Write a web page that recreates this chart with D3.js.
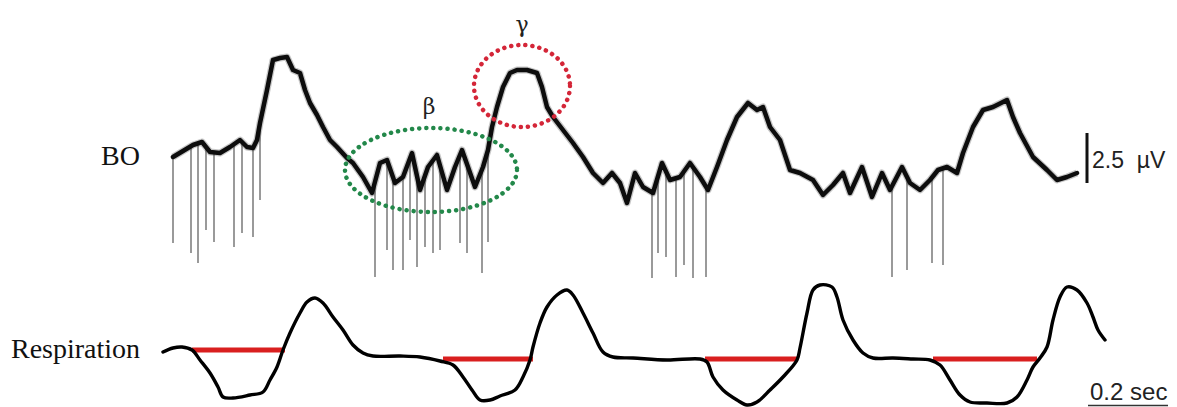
<!DOCTYPE html>
<html><head><meta charset="utf-8">
<script src="https://cdnjs.cloudflare.com/ajax/libs/d3/7.8.5/d3.min.js"></script>
<style>body{margin:0;background:#fff}svg{display:block}</style>
</head><body><svg id="c" width="1177" height="407"></svg>
<script>
// BO trace: time (ms) and amplitude (µV)
const boTime = [32.5,82.5,105,125,150,175,200,217.5,232.5,242.5,250,267.5,282.5,300,317.5,332.5,350,362.5,375,392.5,407.5,425,442.5,467.5,482.5,507.5,530,550,567.5,587.5,607.5,630,650,670,692.5,717.5,737.5,755,770,787.5,807.5,820,830,842.5,857.5,875,892.5,917.5,942.5,955,967.5,982.5,1007.5,1032.5,1057.5,1082.5,1107.5,1130,1150,1167.5,1187.5,1207.5,1232.5,1255,1275,1300,1325,1350,1370,1392.5,1417.5,1442.5,1470,1492.5,1507.5,1525,1550,1575,1600,1632.5,1657.5,1682.5,1707.5,1725,1755,1780,1805,1825,1855,1875,1900,1925,1945,1967.5,1992.5,2007.5,2032.5,2057.5,2082.5,2117.5,2132.5,2150,2182.5,2217.5,2242.5,2267.5,2292.5];
const boValue = [2.15,2.75,2.9,2.4,2.35,2.65,3.0,2.65,2.6,3.0,3.85,5.5,7.0,7.1,7.15,6.5,6.35,5.5,4.85,4.25,3.65,3.0,2.65,2.1,1.85,1.15,0.35,1.85,2.0,0.85,1.15,2.35,0.5,1.65,2.25,0.5,1.65,2.5,1.65,0.65,1.65,2.5,3.65,4.65,5.65,6.35,6.5,6.5,6.35,5.65,4.65,4.15,3.5,2.85,2.15,1.35,0.85,1.35,0.85,-0.15,1.35,0.65,0.35,1.85,1.0,1.15,1.85,1.15,0.5,1.65,3.0,4.15,4.85,4.5,4.65,3.65,3.0,1.5,1.35,1.0,0.25,0.75,1.35,0.35,1.65,0.15,1.35,0.5,1.65,0.85,0.5,1.0,1.5,1.65,1.35,2.35,3.65,4.5,4.65,5.0,4.15,3.35,2.15,1.5,1.0,1.15,1.35];
// downward spikes: time (ms) and bottom amplitude (µV)
const spikeTime = [32.5,77.5,95,115,135,185,205,232.5,250,537.5,567.5,582.5,607.5,625,642.5,662.5,682.5,700,750,767.5,805,820,1230,1245,1265,1290,1310,1332.5,1365,1830,1867.5,1930,1957.5];
const spikeBottom = [-2.15,-2.65,-3.15,-1.5,-2.1,-2.35,-1.65,-1.85,0.0,-3.85,-2.5,-3.5,-3.5,-2.0,-3.35,-2.35,-2.65,-2.5,-2.15,-2.65,-3.65,-2.1,-3.9,-2.65,-2.85,-3.85,-3.25,-3.9,-3.85,-3.85,-3.5,-3.15,-3.25];
// respiration trace: time (ms), arbitrary units
const respTime = [7.5,32.5,55,80,100,125,145,157.5,182.5,225,257.5,275,292.5,307.5,325,350,367.5,387.5,407.5,432.5,457.5,482.5,507.5,532.5,600,650,700,732.5,757.5,780,800,825,850,887.5,907.5,925,932.5,950,967.5,992.5,1017.5,1032.5,1057.5,1082.5,1107.5,1132.5,1182.5,1267.5,1350,1367.5,1382.5,1407.5,1442.5,1467.5,1492.5,1525,1557.5,1592.5,1600,1617.5,1632.5,1650,1680,1692.5,1707.5,1732.5,1757.5,1782.5,1832.5,1882.5,1925,1950,1975,2000,2025,2067.5,2117.5,2142.5,2167.5,2182.5,2200,2217.5,2232.5,2250,2267.5,2292.5,2317.5,2332.5,2345,2362.5];
const respValue = [0.4,0.6,0.65,0.5,0.0,-0.65,-1.35,-1.85,-1.9,-1.75,-1.6,-1.0,-0.35,0.5,1.35,2.35,2.9,3.1,2.85,2.15,1.5,0.75,0.35,0.2,0.2,0.15,-0.05,-0.25,-0.85,-1.5,-2.0,-2.0,-1.8,-1.5,-0.85,0.0,0.65,1.85,2.65,3.25,3.5,3.25,2.35,1.35,0.4,0.15,0.1,0.0,0.05,-0.1,-0.85,-1.5,-2.0,-2.25,-2.1,-1.5,-0.85,0.0,0.6,2.35,3.5,3.75,3.65,3.15,2.0,1.0,0.35,0.1,0.1,0.05,0.0,-0.25,-1.0,-1.75,-2.1,-2.15,-2.15,-1.85,-1.0,-0.35,0.1,0.65,2.0,3.15,3.65,3.5,2.85,2.15,1.5,1.0];
// inspiration periods (red bars)
const barStart = [80,707.5,1362.5,1932.5];
const barEnd = [312.5,932.5,1595,2192.5];
const barLevel = [0.5,0.05,0.05,0.05];

const svg = d3.select("#c");
const x = d3.scaleLinear().domain([0,2500]).range([160,1160]);
const yBO = d3.scaleLinear().domain([0,5]).range([200,100]);
const yR = d3.scaleLinear().domain([0,5]).range([360,260]);

const bo = boTime.map((t,i)=>({t, v: boValue[i]}));
const bis = d3.bisector(d=>d.t).left;
function boAt(t){
  const i = Math.max(1, Math.min(bo.length-1, bis(bo,t)));
  const a = bo[i-1], b = bo[i];
  const k = (t-a.t)/(b.t-a.t);
  return a.v + Math.max(0,Math.min(1,k))*(b.v-a.v);
}

// spikes
svg.append("g").selectAll("line").data(spikeTime).join("line")
  .attr("x1", d=>x(d)).attr("x2", d=>x(d))
  .attr("y1", d=>yBO(boAt(d))).attr("y2", (d,i)=>yBO(spikeBottom[i]))
  .attr("stroke","#8f8f8f").attr("stroke-width",1.8);

// BO trace
const boLine = d3.line().x(d=>x(d.t)).y(d=>yBO(d.v));
svg.append("path").datum(bo)
  .attr("d", boLine)
  .attr("fill","none").attr("stroke","#444").attr("stroke-width",7).attr("opacity",0.3)
  .attr("stroke-linejoin","round");
svg.append("path").datum(bo)
  .attr("d", boLine)
  .attr("fill","none").attr("stroke","#0d0d0d").attr("stroke-width",4.5)
  .attr("stroke-linejoin","round").attr("stroke-linecap","round");

// annotations
svg.append("ellipse").attr("cx", x(677.5)).attr("cy", yBO(1.5)).attr("rx",86).attr("ry",42)
  .attr("fill","none").attr("stroke","#23884a").attr("stroke-width",4.5)
  .attr("stroke-dasharray","0.1 7").attr("stroke-linecap","round");
svg.append("ellipse").attr("cx", x(905)).attr("cy", yBO(5.7)).attr("rx",48).attr("ry",41)
  .attr("fill","none").attr("stroke","#d42638").attr("stroke-width",4.5)
  .attr("stroke-dasharray","0.1 7").attr("stroke-linecap","round");
svg.append("text").attr("x",429).attr("y",114).attr("text-anchor","middle")
  .attr("font-family","DejaVu Serif, serif").attr("font-size",22).attr("fill","#222").text("β");
svg.append("text").attr("x",522).attr("y",32).attr("text-anchor","middle")
  .attr("font-family","DejaVu Serif, serif").attr("font-size",22).attr("fill","#222").text("γ");

// labels
svg.append("text").attr("x",101).attr("y",165)
  .attr("font-family","Liberation Serif, serif").attr("font-size",28).attr("fill","#111").text("BO");
svg.append("text").attr("x",11).attr("y",358)
  .attr("font-family","Liberation Serif, serif").attr("font-size",28).attr("fill","#111").text("Respiration");

// BO scale bar 2.5 µV
svg.append("line").attr("x1",1087).attr("x2",1087).attr("y1",yBO(0.85)).attr("y2",yBO(3.35))
  .attr("stroke","#111").attr("stroke-width",3);
svg.append("text").attr("x",1092).attr("y",168)
  .attr("font-family","Liberation Sans, Arial, sans-serif").attr("font-size",23).attr("fill","#222")
  .attr("xml:space","preserve").text("2.5  µV");

// respiration
svg.append("g").selectAll("line").data(barStart).join("line")
  .attr("x1", d=>x(d)).attr("x2",(d,i)=>x(barEnd[i]))
  .attr("y1",(d,i)=>yR(barLevel[i])).attr("y2",(d,i)=>yR(barLevel[i]))
  .attr("stroke","#d91f1f").attr("stroke-width",5);
svg.append("path").datum(respTime.map((t,i)=>({t, v: respValue[i]})))
  .attr("d", d3.line().curve(d3.curveCatmullRom).x(d=>x(d.t)).y(d=>yR(d.v)))
  .attr("fill","none").attr("stroke","#000").attr("stroke-width",3.4)
  .attr("stroke-linejoin","round").attr("stroke-linecap","round");

// time scale bar 0.2 sec
svg.append("line").attr("x1",x(2320)).attr("x2",x(2320)+ (x(200)-x(0))).attr("y1",405.5).attr("y2",405.5)
  .attr("stroke","#333").attr("stroke-width",1.5);
svg.append("text").attr("x",1090).attr("y",400)
  .attr("font-family","Liberation Sans, Arial, sans-serif").attr("font-size",24).attr("fill","#222").text("0.2 sec");
</script></body></html>
